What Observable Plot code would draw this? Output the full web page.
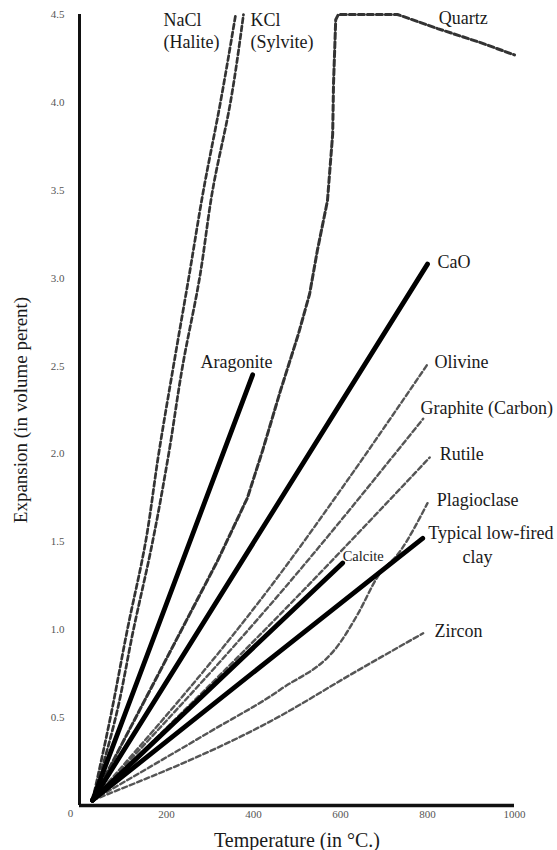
<!DOCTYPE html>
<html><head><meta charset="utf-8">
<script src="https://cdn.jsdelivr.net/npm/d3@7"></script>
<script src="https://cdn.jsdelivr.net/npm/@observablehq/plot@0.6"></script>
<style>body{margin:0;background:#fff;}</style>
</head><body><div id="chart"></div>
<script>
// Temperature (°C) and expansion (volume percent)
const naclT = [30, 71, 110, 152, 182, 216, 251, 285, 324, 359];
const naclE = [0.03, 0.5, 1.0, 1.5, 2.0, 2.5, 3.0, 3.5, 4.0, 4.5];
const kclT  = [30, 83, 124, 168, 205, 237, 276, 306, 347, 377];
const kclE  = [0.03, 0.5, 1.0, 1.5, 2.0, 2.5, 3.0, 3.5, 4.0, 4.5];
const quartzT = [30, 317, 386, 421, 462, 503, 529, 547, 570, 582, 584, 589, 595, 731, 823, 922, 1000];
const quartzE = [0.03, 1.39, 1.75, 2.02, 2.36, 2.68, 2.91, 3.16, 3.44, 3.82, 4.11, 4.47, 4.5, 4.5, 4.42, 4.34, 4.27];
const aragoniteT = [30, 398];
const aragoniteE = [0.03, 2.45];
const caoT = [30, 800];
const caoE = [0.03, 3.08];
const olivineT = [30, 462, 616, 800];
const olivineE = [0.03, 1.32, 1.85, 2.51];
const graphiteT = [30, 462, 790];
const graphiteE = [0.03, 1.21, 2.2];
const rutileT = [30, 462, 805];
const rutileE = [0.03, 1.09, 1.98];
const plagioclaseT = [30, 300, 462, 600, 640, 685, 738, 800];
const plagioclaseE = [0.03, 0.42, 0.66, 0.93, 1.09, 1.30, 1.45, 1.72];
const clayT = [30, 462, 789];
const clayE = [0.03, 0.88, 1.52];
const calciteT = [30, 605];
const calciteE = [0.03, 1.38];
const zirconT = [30, 462, 620, 790];
const zirconE = [0.03, 0.51, 0.74, 0.98];

const xTicks = [200, 400, 600, 800, 1000];
const yTicks = [0.5, 1.0, 1.5, 2.0, 2.5, 3.0, 3.5, 4.0, 4.5];

// label texts and anchor points (data coordinates)
const labelText = ["NaCl", "(Halite)", "KCl", "(Sylvite)", "Quartz", "CaO", "Aragonite", "Olivine",
  "Graphite (Carbon)", "Rutile", "Plagioclase", "Typical low-fired", "Zircon"];
const labelT = [193, 193, 393, 393, 826, 823, 278, 816, 784, 828, 821, 802, 816];
const labelE = [4.465, 4.34, 4.465, 4.34, 4.48, 3.09, 2.52, 2.52, 2.26, 2.0, 1.735, 1.55, 0.99];

const build = (name, T, E) => T.map((t, i) => ({name, t, e: E[i]}));
const dashedThin = [
  ...build("Olivine", olivineT, olivineE),
  ...build("Graphite", graphiteT, graphiteE),
  ...build("Rutile", rutileT, rutileE),
  ...build("Plagioclase", plagioclaseT, plagioclaseE),
  ...build("Zircon", zirconT, zirconE)
];
const dashedDark = [
  ...build("NaCl", naclT, naclE),
  ...build("KCl", kclT, kclE)
];
const quartz = build("Quartz", quartzT, quartzE);
const solid = [
  ...build("Aragonite", aragoniteT, aragoniteE),
  ...build("CaO", caoT, caoE),
  ...build("Calcite", calciteT, calciteE),
  ...build("Clay", clayT, clayE)
];
const labels = labelText.map((s, i) => ({s, t: labelT[i], e: labelE[i]}));

const serif = "'Liberation Serif', 'DejaVu Serif', serif";

const chart = Plot.plot({
  width: 557,
  height: 850,
  marginLeft: 79,
  marginRight: 43,
  marginTop: 14,
  marginBottom: 45,
  style: {fontFamily: serif, background: "#fff", overflow: "visible"},
  x: {domain: [0, 1000]},
  y: {domain: [0, 4.5]},
  marks: [
    Plot.axisX({ticks: xTicks, tickSize: 0, tickPadding: 5, label: null, fontSize: 11, color: "#555",
      tickFormat: d => String(d)}),
    Plot.axisY({ticks: yTicks, tickSize: 0, tickPadding: 15, label: null, fontSize: 11, color: "#555",
      tickFormat: d3.format(".1f")}),
    Plot.text(["0"], {x: 0, y: 0, dx: -9, dy: 8, fontSize: 11, fill: "#555"}),
    Plot.ruleX([0], {y1: 0, y2: 4.5, stroke: "#111", strokeWidth: 3}),
    Plot.ruleY([0], {x1: 0, x2: 1000, stroke: "#111", strokeWidth: 3.5}),
    Plot.line(dashedThin, {x: "t", y: "e", z: "name", stroke: "#555", strokeWidth: 2.4,
      strokeDasharray: "5,3", curve: "monotone-x"}),
    Plot.line(dashedDark, {x: "t", y: "e", z: "name", stroke: "#333", strokeWidth: 2.7,
      strokeDasharray: "5,3", curve: "monotone-y"}),
    Plot.line(quartz, {x: "t", y: "e", stroke: "#333", strokeWidth: 3,
      strokeDasharray: "6,3", curve: "linear"}),
    Plot.line(solid, {x: "t", y: "e", z: "name", stroke: "#000", strokeWidth: 4.8,
      strokeLinecap: "round", curve: "monotone-x"}),
    Plot.text(labels, {x: "t", y: "e", text: "s", textAnchor: "start", lineAnchor: "middle",
      fontSize: 18, fill: "#1a1a1a"}),
    Plot.text(["clay"], {x: 915, y: 1.41, fontSize: 18, lineAnchor: "middle", fill: "#1a1a1a"}),
    Plot.text(["Calcite"], {x: 605, y: 1.42, textAnchor: "start", lineAnchor: "middle",
      fontSize: 14.5, fill: "#1a1a1a"}),
    Plot.text(["Expansion (in volume perent)"], {frameAnchor: "left", textAnchor: "middle",
      lineAnchor: "middle", rotate: -90, dx: -59, fontSize: 19, fill: "#1a1a1a"}),
    Plot.text(["Temperature (in °C.)"], {frameAnchor: "bottom", textAnchor: "middle",
      lineAnchor: "middle", dy: 35, fontSize: 20, fill: "#1a1a1a"})
  ]
});
document.getElementById("chart").appendChild(chart);
</script>
</body></html>
